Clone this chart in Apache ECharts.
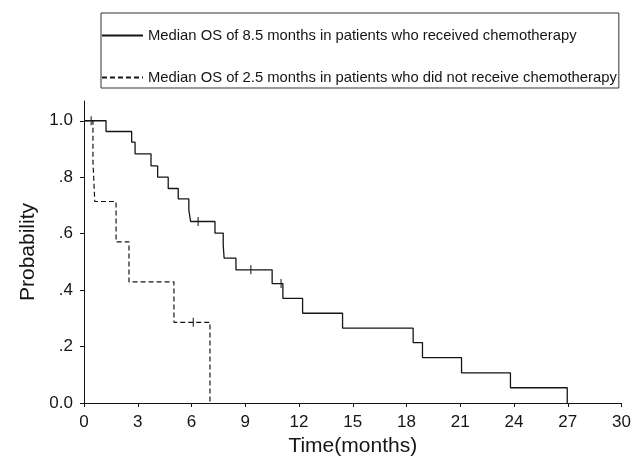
<!DOCTYPE html>
<html lang="en">
  <head>
    <meta charset="UTF-8" />
    <title>Overall survival</title>
    <script src="https://cdn.jsdelivr.net/npm/echarts@6/dist/echarts.min.js"></script>
    <style>
      body { margin: 0; background: #fff; }
    </style>
  </head>
  <body>
    <div id="main" style="width: 634px; height: 464px"></div>
  </body>
  <script>
    // survival steps (time in months, probability)
    const chemoTime = [0, 1.23, 2.66, 2.85, 3.74, 4.11, 4.7, 5.26, 5.85, 5.95, 7.31, 7.77, 7.82, 8.48, 10.5, 11.1, 12.2, 14.43, 18.37, 18.89, 21.07, 23.8, 26.97];
    const chemoSurv = [1.0, 0.962, 0.924, 0.883, 0.84, 0.8, 0.76, 0.723, 0.684, 0.643, 0.602, 0.56, 0.513, 0.472, 0.423, 0.371, 0.318, 0.265, 0.214, 0.161, 0.107, 0.054, 0];
    const noChemoTime = [0, 0.5, 0.6, 1.79, 2.51, 5.02, 7.03];
    const noChemoSurv = [1.0, 0.857, 0.714, 0.571, 0.429, 0.286, 0];

    // censored patients
    const chemoCensorTime = [6.37, 9.31, 11.0];
    const chemoCensorSurv = [0.643, 0.472, 0.423];
    const noChemoCensorTime = [0.4, 6.1];
    const noChemoCensorSurv = [1.0, 0.286];

    const xTicks = [0, 3, 6, 9, 12, 15, 18, 21, 24, 27, 30];
    const yTicks = [0, 0.2, 0.4, 0.6, 0.8, 1.0];

    const chemoName = "Median OS of 8.5 months in patients who received chemotherapy";
    const noChemoName = "Median OS of 2.5 months in patients who did not receive chemotherapy";

    const zip = (a, b) => a.map((v, i) => [v, b[i]]);
    const ink = "#151515";
    const font = "Liberation Sans";

    var myChart = echarts.init(document.getElementById("main"));

    var option = {
      animation: false,
      backgroundColor: "#fff",
      textStyle: { fontFamily: font },
      legend: {
        data: [chemoName, noChemoName],
        orient: "vertical",
        left: 101,
        top: 13,
        padding: [15, 2, 3, 0],
        itemGap: 27,
        itemWidth: 41,
        itemHeight: 15,
        itemStyle: { opacity: 0 },
        borderColor: "#333",
        borderWidth: 1,
        textStyle: { fontFamily: font, fontSize: 14.8, color: ink },
      },
      grid: {
        left: 84,
        right: 12,
        top: 101,
        bottom: 61,
        containLabel: false,
      },
      xAxis: {
        type: "value",
        min: 0,
        max: 30,
        interval: 3,
        name: "Time(months)",
        nameLocation: "middle",
        nameGap: 32,
        nameTextStyle: { fontFamily: font, fontSize: 21, color: ink },
        axisLine: { lineStyle: { color: ink, width: 1 } },
        axisTick: { length: 4, lineStyle: { color: ink } },
        axisLabel: {
          customValues: xTicks,
          margin: 11,
          fontSize: 17,
          color: ink,
          fontFamily: font,
        },
        splitLine: { show: false },
      },
      yAxis: {
        type: "value",
        min: 0,
        max: 1.07,
        name: "Probability",
        nameLocation: "middle",
        nameGap: 45,
        nameTextStyle: { fontFamily: font, fontSize: 21, color: ink },
        axisLine: { show: true, lineStyle: { color: ink, width: 1 } },
        axisTick: { show: true, length: 4, customValues: yTicks, lineStyle: { color: ink } },
        axisLabel: {
          customValues: yTicks,
          margin: 11,
          fontSize: 17,
          color: ink,
          fontFamily: font,
          formatter: (v) => (v === 0 ? "0.0" : v === 1 ? "1.0" : String(v).replace("0.", ".")),
        },
        splitLine: { show: false },
      },
      series: [
        {
          name: chemoName,
          type: "line",
          step: "end",
          symbol: "none",
          data: zip(chemoTime, chemoSurv),
          lineStyle: { color: ink, width: 1.3, type: "solid" },
          itemStyle: { color: ink },
        },
        {
          name: noChemoName,
          type: "line",
          step: "end",
          symbol: "none",
          data: zip(noChemoTime, noChemoSurv),
          lineStyle: { color: ink, width: 1.2, type: [5, 3] },
          itemStyle: { color: ink },
        },
        {
          name: "chemo censored",
          type: "scatter",
          symbol: "rect",
          symbolSize: [1.3, 9],
          data: zip(chemoCensorTime, chemoCensorSurv),
          itemStyle: { color: ink },
        },
        {
          name: "no chemo censored",
          type: "scatter",
          symbol: "rect",
          symbolSize: [1.3, 9],
          data: zip(noChemoCensorTime, noChemoCensorSurv),
          itemStyle: { color: ink },
        },
      ],
    };

    myChart.setOption(option);
  </script>
</html>
